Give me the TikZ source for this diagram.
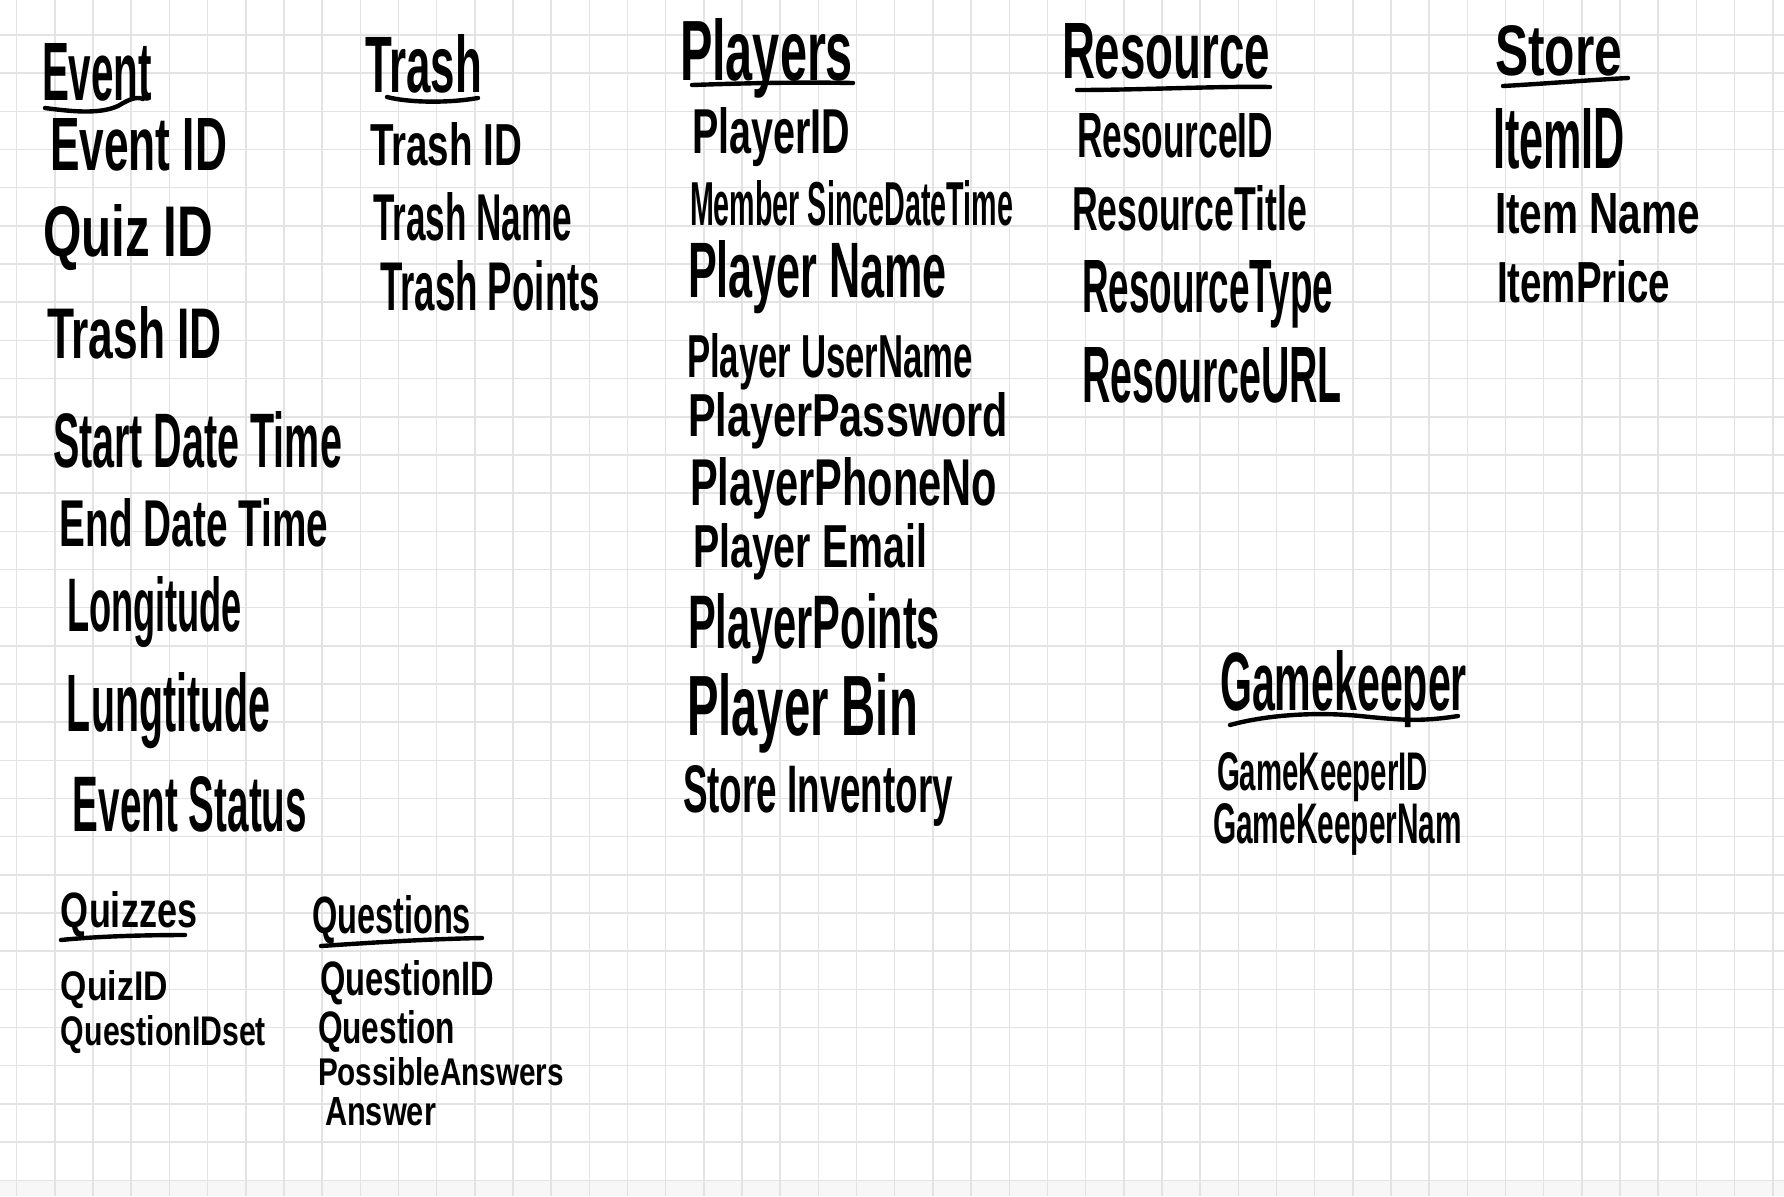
\documentclass[tikz,border=0pt]{standalone}
\usepackage{fontspec}
\usepackage{graphicx}
\setmainfont{Liberation Sans}
% one drawing unit = one pixel of the sheet
\newlength\px
\setlength\px{0.5pt}
% #1 = width, #2 = cap height, #3 = text
\newcommand\fitbox[3]{\resizebox{#1\px}{#2\px}{#3}}
\tikzset{
  gridline/.style={draw=black!11, line width=0.75pt},
  hw/.style={anchor=base west, inner sep=0pt, outer sep=0pt, text=black, font=\bfseries},
  uline/.style={draw=black, line width=2.2pt, line cap=round, line join=round},
}
\begin{document}
\begin{tikzpicture}[x=0.5pt, y=-0.5pt]
  % paper and grid
  \useasboundingbox (0,0) rectangle (1784,1196);
  \fill[white] (0,0) rectangle (1784,1196);
  \fill[black!3] (0,1181) rectangle (1784,1196);
  \foreach \i in {0,...,46}
    \draw[gridline] ({16.7+38.175*\i},0) -- ({16.7+38.175*\i},1196);
  \foreach \j in {0,...,30}
    \draw[gridline] (0,{35+38.175*\j}) -- (1784,{35+38.175*\j});

  % ---------------- Event ----------------
  \node[hw] (event) at (42,100) {\fitbox{110}{57}{Event}};
  \draw[uline] (45,108) .. controls (75,112) and (100,114) .. (118,106)
               .. controls (128,100) and (136,96) .. (143,99);
  \node[hw] (event-id)    at (50,170)  {\fitbox{177}{52}{Event ID}};
  \node[hw] (event-quiz)  at (43,256)  {\fitbox{170}{52}{Quiz ID}};
  \node[hw] (event-trash) at (47,358)  {\fitbox{175}{52}{Trash ID}};
  \node[hw] (event-start) at (53,467)  {\fitbox{289}{56}{Start Date Time}};
  \node[hw] (event-end)   at (60,546)  {\fitbox{268}{48}{End Date Time}};
  \node[hw] (event-long)  at (67,631)  {\fitbox{175}{55}{Longitude}};
  \node[hw] (event-lung)  at (67,731)  {\fitbox{203}{59}{Lungtitude}};
  \node[hw] (event-stat)  at (73,831)  {\fitbox{234}{55}{Event Status}};

  % ---------------- Trash ----------------
  \node[hw] (trash) at (365,92) {\fitbox{117}{58}{Trash}};
  \draw[uline] (387,97) .. controls (410,103) and (450,103) .. (478,98);
  \node[hw] (trash-id)     at (370,165) {\fitbox{152}{43}{Trash ID}};
  \node[hw] (trash-name)   at (373,240) {\fitbox{199}{48}{Trash Name}};
  \node[hw] (trash-points) at (380,310) {\fitbox{220}{50}{Trash Points}};

  % ---------------- Players ----------------
  \node[hw] (players) at (680,80) {\fitbox{173}{62}{Players}};
  \draw[uline] (692,85) .. controls (750,83) and (800,82) .. (853,83);
  \node[hw] (pl-id)    at (692,153) {\fitbox{158}{46}{PlayerID}};
  \node[hw] (pl-since) at (690,225) {\fitbox{323}{45}{Member SinceDateTime}};
  \node[hw] (pl-name)  at (688,297) {\fitbox{259}{57}{Player Name}};
  \node[hw] (pl-user)  at (687,377) {\fitbox{286}{44}{Player UserName}};
  \node[hw] (pl-pass)  at (688,436) {\fitbox{320}{44}{PlayerPassword}};
  \node[hw] (pl-phone) at (690,505) {\fitbox{307}{48}{PlayerPhoneNo}};
  \node[hw] (pl-email) at (693,567) {\fitbox{234}{44}{Player Email}};
  \node[hw] (pl-pts)   at (688,648) {\fitbox{252}{55}{PlayerPoints}};
  \node[hw] (pl-bin)   at (687,735) {\fitbox{231}{62}{Player Bin}};
  \node[hw] (pl-inv)   at (683,812) {\fitbox{270}{47}{Store Inventory}};

  % ---------------- Resource ----------------
  \node[hw] (resource) at (1062,78) {\fitbox{208}{55}{Resource}};
  \draw[uline] (1077,90) .. controls (1140,90) and (1220,86) .. (1270,87);
  \node[hw] (res-id)    at (1077,157) {\fitbox{196}{44}{ResourceID}};
  \node[hw] (res-title) at (1072,230) {\fitbox{235}{45}{ResourceTitle}};
  \node[hw] (res-type)  at (1082,312) {\fitbox{251}{52}{ResourceType}};
  \node[hw] (res-url)   at (1082,402) {\fitbox{260}{55}{ResourceURL}};

  % ---------------- Store ----------------
  \node[hw] (store) at (1495,75) {\fitbox{127}{50}{Store}};
  \draw[uline] (1503,86) .. controls (1540,84) and (1590,80) .. (1628,78);
  \node[hw] (st-id)    at (1493,168) {\fitbox{132}{60}{ItemID}};
  \node[hw] (st-name)  at (1495,233) {\fitbox{205}{40}{Item Name}};
  \node[hw] (st-price) at (1497,302) {\fitbox{173}{42}{ItemPrice}};

  % ---------------- Gamekeeper ----------------
  \node[hw] (gamekeeper) at (1220,710) {\fitbox{247}{60}{Gamekeeper}};
  \draw[uline] (1230,725) .. controls (1270,714) and (1320,712) .. (1360,716)
               .. controls (1400,720) and (1420,722) .. (1458,716);
  \node[hw] (gk-id)   at (1217,790) {\fitbox{211}{38}{GameKeeperID}};
  \node[hw] (gk-name) at (1213,843) {\fitbox{249}{40}{GameKeeperNam}};

  % ---------------- Quizzes ----------------
  \node[hw] (quizzes) at (61,927) {\fitbox{136}{36}{Quizzes}};
  \draw[uline] (61,940) .. controls (100,936) and (150,935) .. (185,935);
  \node[hw] (qz-id)  at (61,1000) {\fitbox{107}{30}{QuizID}};
  \node[hw] (qz-set) at (61,1045) {\fitbox{205}{30}{QuestionIDset}};

  % ---------------- Questions ----------------
  \node[hw] (questions) at (312,933) {\fitbox{159}{38}{Questions}};
  \draw[uline] (321,946) .. controls (380,942) and (430,939) .. (482,938);
  \node[hw] (qs-id)   at (320,995)  {\fitbox{174}{35}{QuestionID}};
  \node[hw] (qs-q)    at (318,1043) {\fitbox{137}{33}{Question}};
  \node[hw] (qs-poss) at (318,1085) {\fitbox{246}{28}{PossibleAnswers}};
  \node[hw] (qs-ans)  at (325,1125) {\fitbox{111}{28}{Answer}};
\end{tikzpicture}
\end{document}
